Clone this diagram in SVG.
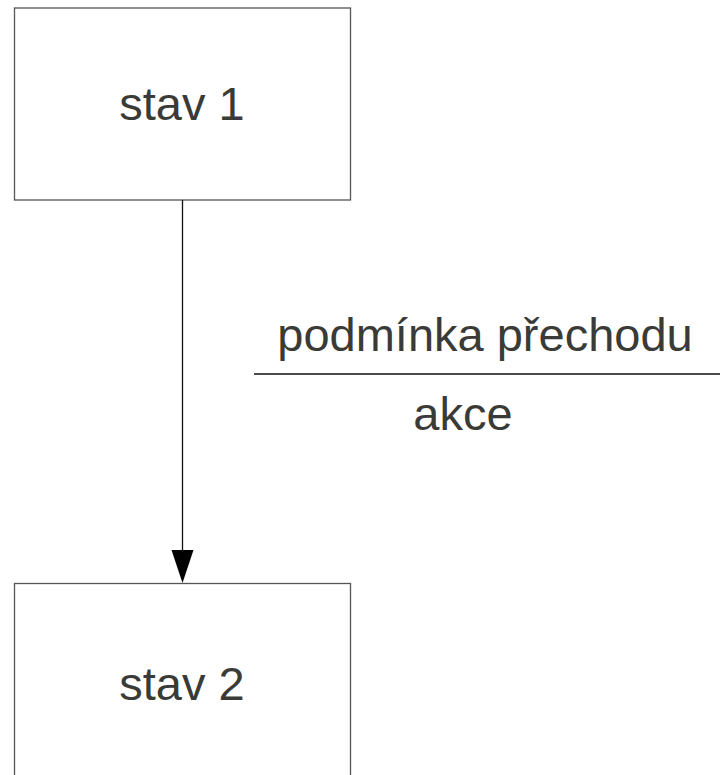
<svg xmlns="http://www.w3.org/2000/svg" width="720" height="775" viewBox="0 0 720 775">
  <style>
    .state { fill: #ffffff; stroke: #555555; stroke-width: 1.3; }
    .label { font-family: "Liberation Sans", Arial, sans-serif; font-size: 47px; fill: #3a3a36; }
    .edge { stroke: #111111; stroke-width: 1.3; fill: none; }
    .head { fill: #000000; }
  </style>
  <rect width="720" height="775" fill="#ffffff"/>

  <g id="stav1">
    <rect class="state" x="14.5" y="8" width="336" height="192"/>
    <text class="label" x="182" y="120" text-anchor="middle">stav 1</text>
  </g>

  <g id="stav2">
    <rect class="state" x="14.5" y="583.5" width="336" height="220"/>
    <text class="label" x="182" y="700" text-anchor="middle">stav 2</text>
  </g>

  <g id="connectors">
    <line class="edge" x1="182.5" y1="200" x2="182.5" y2="550"/>
    <path class="head" d="M171.5,550 L193.5,550 L182.5,583 Z"/>
    <g id="transition-label">
      <text class="label" x="485" y="351" text-anchor="middle">podmínka přechodu</text>
      <line class="edge" x1="254" y1="374" x2="720" y2="374"/>
      <text class="label" x="463" y="430" text-anchor="middle">akce</text>
    </g>
  </g>
</svg>
